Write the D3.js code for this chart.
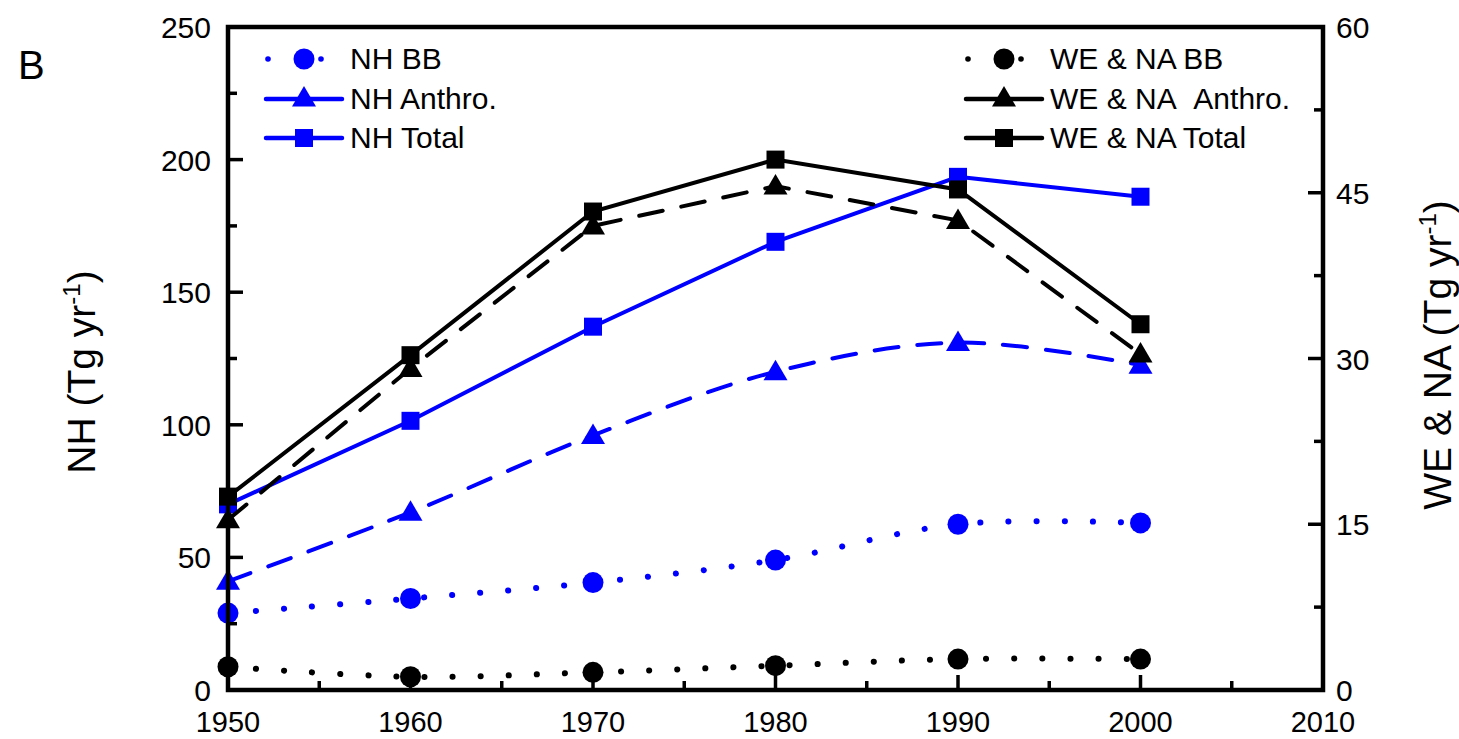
<!DOCTYPE html>
<html>
<head>
<meta charset="utf-8">
<script src="https://cdn.jsdelivr.net/npm/d3@7"></script>
<style>
  body { margin: 0; background: #fff; }
  svg { display: block; font-family: Arial, "Liberation Sans", sans-serif; }
</style>
</head>
<body>
<svg id="chart" width="1459" height="739"></svg>
<script>
const years = [1950, 1960, 1970, 1980, 1990, 2000];

// left axis series (NH)
const nhBB = [29, 34.5, 40.5, 49, 62.5, 63];
const nhAnthro = [41, 67, 96, 120, 131, 122.5];
const nhTotal = [70, 101.5, 137, 169, 193.5, 186];

// right axis series (WE & NA)
const weBB = [2.1, 1.2, 1.6, 2.2, 2.8, 2.8];
const weAnthro = [15.4, 29.1, 42, 45.6, 42.5, 30.4];
const weTotal = [17.5, 30.3, 43.3, 48, 45.3, 33.1];

const xTicks = [1950, 1960, 1970, 1980, 1990, 2000, 2010];
const leftTicks = [0, 50, 100, 150, 200, 250];
const rightTicks = [0, 15, 30, 45, 60];

const BLUE = '#0000ff';
const BLACK = '#000000';

const svg = d3.select('#chart');
const plotL = 228, plotR = 1323, plotT = 27, plotB = 690;

const x = d3.scaleLinear().domain([1950, 2010]).range([plotL, plotR]);
const yL = d3.scaleLinear().domain([0, 250]).range([plotB, plotT]);
const yR = d3.scaleLinear().domain([0, 60]).range([plotB, plotT]);

const series = [
  { name: 'NH BB', values: nhBB, y: yL, color: BLUE, style: 'dot', marker: 'circle', smooth: true },
  { name: 'NH Anthro.', values: nhAnthro, y: yL, color: BLUE, style: 'dash', marker: 'triangle', smooth: true },
  { name: 'NH Total', values: nhTotal, y: yL, color: BLUE, style: 'solid', marker: 'square', smooth: false },
  { name: 'WE & NA BB', values: weBB, y: yR, color: BLACK, style: 'dot', marker: 'circle', smooth: true },
  { name: 'WE & NA\u00a0\u00a0Anthro.', values: weAnthro, y: yR, color: BLACK, style: 'dash', marker: 'triangle', smooth: false },
  { name: 'WE & NA Total', values: weTotal, y: yR, color: BLACK, style: 'solid', marker: 'square', smooth: false },
];

const dashes = { dot: '0.1 28', dash: '24 19', solid: null };

function styleLine(sel, s) {
  sel.attr('fill', 'none')
    .attr('stroke', s.color)
    .attr('stroke-width', s.style === 'dot' ? 6 : 4)
    .attr('stroke-linecap', s.style === 'solid' ? 'butt' : 'round')
    .attr('stroke-dasharray', dashes[s.style]);
}

function drawMarker(g, type, cx, cy, color) {
  if (type === 'circle') {
    g.append('circle').attr('cx', cx).attr('cy', cy).attr('r', 10.5).attr('fill', color);
  } else if (type === 'square') {
    g.append('rect').attr('x', cx - 9).attr('y', cy - 9).attr('width', 18).attr('height', 18).attr('fill', color);
  } else {
    g.append('path').attr('d', `M${cx},${cy - 12}L${cx + 12},${cy + 8.5}L${cx - 12},${cy + 8.5}Z`).attr('fill', color);
  }
}

// plot series
const plot = svg.append('g');
series.forEach((s) => {
  const pts = years.map((yr, i) => [x(yr), s.y(s.values[i])]);
  const line = d3.line().curve(s.smooth ? d3.curveCatmullRom.alpha(0.5) : d3.curveLinear);
  plot.append('path').attr('d', line(pts)).call(styleLine, s);
  pts.forEach(([px, py]) => drawMarker(plot, s.marker, px, py, s.color));
});

// frame
const axes = svg.append('g').attr('stroke', BLACK).attr('stroke-width', 4.5);
axes.append('path')
  .attr('d', `M${plotL},${plotT}H${plotR}V${plotB}H${plotL}Z`)
  .attr('fill', 'none')
  .attr('stroke-linejoin', 'miter');

// bottom ticks (inward)
d3.range(1955, 2010, 5).forEach((yr) => {
  const major = yr % 10 === 0;
  axes.append('line')
    .attr('x1', x(yr)).attr('x2', x(yr))
    .attr('y1', plotB).attr('y2', plotB - (major ? 15 : 9))
    .attr('stroke-width', 3.5);
});
// left ticks
d3.range(25, 250, 25).forEach((v) => {
  const major = v % 50 === 0;
  axes.append('line')
    .attr('x1', plotL).attr('x2', plotL + (major ? 15 : 9))
    .attr('y1', yL(v)).attr('y2', yL(v))
    .attr('stroke-width', 3.5);
});
// right ticks
d3.range(7.5, 60, 7.5).forEach((v) => {
  const major = v % 15 === 0;
  axes.append('line')
    .attr('x1', plotR).attr('x2', plotR - (major ? 15 : 9))
    .attr('y1', yR(v)).attr('y2', yR(v))
    .attr('stroke-width', 3.5);
});

// tick labels
const labels = svg.append('g').attr('font-size', 30).attr('fill', BLACK);
xTicks.forEach((t) => {
  labels.append('text').attr('x', x(t)).attr('y', 732).attr('font-size', 29).attr('text-anchor', 'middle').text(t);
});
leftTicks.forEach((t) => {
  labels.append('text').attr('x', 211).attr('y', yL(t) + 11).attr('text-anchor', 'end').text(t);
});
rightTicks.forEach((t) => {
  labels.append('text').attr('x', 1336).attr('y', yR(t) + 11).attr('text-anchor', 'start').text(t);
});

// axis titles
function axisTitle(tx, ty, main) {
  const t = svg.append('text')
    .attr('transform', `translate(${tx},${ty}) rotate(-90)`)
    .attr('text-anchor', 'middle')
    .attr('font-size', 39);
  t.append('tspan').text(`${main} (Tg yr`);
  t.append('tspan').attr('font-size', 24).attr('dy', -15).text('-1');
  t.append('tspan').attr('dy', 15).text(')');
}
axisTitle(95, 372, 'NH');
axisTitle(1451, 355, 'WE & NA');

svg.append('text').attr('x', 18).attr('y', 79).attr('font-size', 40).text('B');

// legends
function legendEntry(s, x0, ty) {
  const g = svg.append('g');
  const mx = x0 + 38;
  if (s.style === 'dot') {
    g.append('circle').attr('cx', x0 + 2).attr('cy', ty).attr('r', 2.8).attr('fill', s.color);
    g.append('circle').attr('cx', mx + 17).attr('cy', ty).attr('r', 2.8).attr('fill', s.color);
  } else {
    const seg = [[x0, mx - 6], [mx + 6, x0 + 76]];
    seg.forEach(([a, b]) => {
      g.append('line').attr('x1', a).attr('x2', b).attr('y1', ty).attr('y2', ty)
        .attr('stroke', s.color).attr('stroke-width', 4.5)
        .attr('stroke-linecap', 'round');
    });
  }
  drawMarker(g, s.marker, mx, s.marker === 'triangle' ? ty - 1 : ty, s.color);
  g.append('text').attr('x', x0 + 84).attr('y', ty + 10).attr('font-size', 30).attr('fill', BLACK).text(s.name);
}
const rowsY = [59, 99, 138];
series.slice(0, 3).forEach((s, i) => legendEntry(s, 266, rowsY[i]));
series.slice(3).forEach((s, i) => legendEntry(s, 966, rowsY[i]));
</script>
</body>
</html>
